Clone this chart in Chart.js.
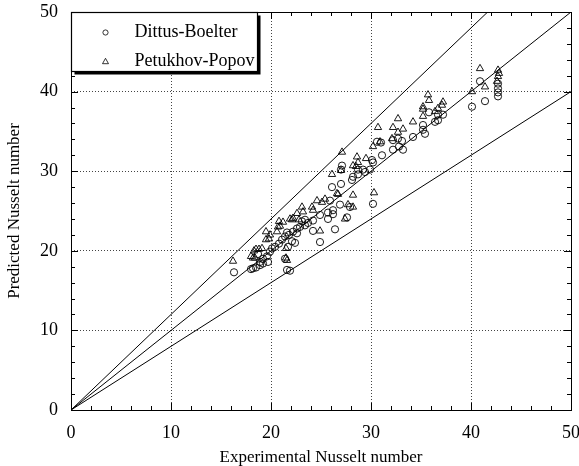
<!DOCTYPE html>
<html><head><meta charset="utf-8">
<script src="https://cdn.jsdelivr.net/npm/chart.js@4/dist/chart.umd.min.js"></script>
<style>html,body{margin:0;padding:0;background:#fff}#wrap{width:579px;height:466px}</style>
</head><body><div id="wrap"><canvas id="c" width="579" height="466"></canvas></div>
<script>
const xTicks = [0, 10, 20, 30, 40, 50];
const yTicks = [0, 10, 20, 30, 40, 50];
const minorStep = 2;
const seriesNames = ['Dittus-Boelter', 'Petukhov-Popov'];
const xTitle = 'Experimental Nusselt number';
const yTitle = 'Predicted Nusselt number';

const dittusX = [16.3,18.0,18.2,18.5,18.9,19.2,19.2,19.6,18.7,19.7,18.9,19.9,20.1,20.4,20.8,21.1,21.4,21.8,22.2,22.6,22.9,23.1,23.4,22.1,21.7,22.4,21.6,22.6,21.4,21.6,21.9,23.4,23.7,24.2,24.9,24.2,24.9,26.4,25.7,26.2,27.6,25.7,26.2,25.9,26.9,27.9,26.1,27.0,28.1,28.2,27.0,27.1,28.7,28.7,29.4,29.2,29.9,30.2,30.1,31.1,30.2,30.6,31.0,32.2,32.7,33.1,32.8,32.2,33.2,34.2,35.2,35.2,35.4,36.4,36.7,36.7,37.2,35.8,40.1,40.9,41.4,42.7,42.7,42.7,42.7];
const dittusY = [17.3,17.7,17.8,17.9,18.2,18.4,19.0,19.3,19.6,18.6,18.6,19.9,20.3,20.5,20.9,21.4,21.8,22.0,22.4,22.8,23.0,23.7,23.9,21.2,20.5,21.0,22.3,22.2,19.0,17.6,17.5,23.2,23.5,23.8,24.5,22.5,21.1,22.7,24.8,24.6,24.2,24.0,25.1,26.3,25.8,25.5,28.0,28.4,28.9,29.3,30.2,30.7,30.2,29.6,29.9,30.2,30.2,31.1,31.4,32.0,25.9,33.7,33.6,33.9,34.1,33.8,33.1,32.7,32.7,34.3,35.8,35.2,34.7,36.2,36.4,37.1,37.1,37.4,38.1,41.3,38.8,41.0,40.4,39.9,39.4];

const petukhovX = [16.2,18.0,18.2,18.4,18.3,18.5,18.8,19.1,19.5,19.8,19.5,19.9,20.6,20.7,20.8,21.2,20.9,21.9,22.1,22.2,21.5,21.5,21.6,22.6,22.8,23.1,23.2,24.1,24.2,24.6,25.1,25.4,24.9,27.4,26.7,26.6,28.2,27.7,28.2,26.1,27.0,27.1,28.2,28.5,28.7,28.6,29.5,30.3,30.2,30.9,30.7,32.2,33.2,32.7,32.1,32.7,34.2,35.2,35.2,35.2,35.7,35.8,36.4,36.7,37.2,37.1,40.1,40.9,41.4,42.7,42.8,42.7,42.6];
const petukhovY = [18.7,19.3,19.1,19.1,20.0,20.2,20.2,20.3,21.4,21.5,22.4,22.0,22.4,23.0,23.7,23.6,23.1,24.0,23.9,24.1,20.3,19.1,18.8,24.7,23.9,25.5,24.9,25.5,25.1,26.3,26.1,26.5,22.5,24.0,27.1,27.2,27.0,25.8,25.5,29.6,30.1,32.4,30.7,30.6,31.1,31.8,31.6,27.3,33.1,33.7,35.5,35.5,35.3,34.9,34.1,36.6,36.2,36.9,37.8,38.1,39.6,38.9,37.5,37.9,38.7,38.3,40.0,42.9,40.6,42.7,42.3,41.9,41.3];

const refSlopes = [1.2, 1.0, 0.8];
const refX = [0, 50];

const FONT = 'Liberation Serif, Times New Roman, serif';

function pts(xs, ys) { return xs.map((x, i) => ({x: x, y: ys[i]})); }

const datasets = [
  {label: seriesNames[0], data: pts(dittusX, dittusY), pointStyle: 'circle', pointRadius: 3.6,
   borderColor: '#000', backgroundColor: 'rgba(0,0,0,0)', borderWidth: 0.9, showLine: false, pointHoverRadius: 3.6},
  {label: seriesNames[1], data: pts(petukhovX, petukhovY), pointStyle: 'triangle', pointRadius: 4.2,
   borderColor: '#000', backgroundColor: 'rgba(0,0,0,0)', borderWidth: 0.9, showLine: false, pointHoverRadius: 4.2}
];
refSlopes.forEach(s => {
  datasets.push({label: 'ref' + s, data: refX.map(x => ({x: x, y: s * x})), showLine: true,
    borderColor: '#000', borderWidth: 1, pointRadius: 0, fill: false, clip: 0});
});

const framePlugin = {
  id: 'frame',
  afterDraw(chart) {
    const ctx = chart.ctx, a = chart.chartArea;
    const xs = chart.scales.x, ys = chart.scales.y;
    ctx.save();
    ctx.strokeStyle = '#000';
    ctx.lineWidth = 1;
    ctx.beginPath();
    for (let v = 0; v <= 50; v += minorStep) {
      const major = v % 10 === 0;
      const L = major ? 7 : 4;
      const px = Math.round(xs.getPixelForValue(v)) + 0.5;
      ctx.moveTo(px, a.bottom); ctx.lineTo(px, a.bottom - L);
      ctx.moveTo(px, a.top); ctx.lineTo(px, a.top + L);
      const py = Math.round(ys.getPixelForValue(v)) + 0.5;
      ctx.moveTo(a.left, py); ctx.lineTo(a.left + L, py);
      ctx.moveTo(a.right, py); ctx.lineTo(a.right - L, py);
    }
    ctx.stroke();
    ctx.strokeRect(Math.round(a.left) + 0.5, Math.round(a.top) + 0.5, Math.round(a.right - a.left), Math.round(a.bottom - a.top));
    const bx = Math.round(a.left) + 0.5, by = Math.round(a.top) + 0.5, bw = 186, bh = 59;
    ctx.fillStyle = '#000';
    ctx.fillRect(bx + 3, by + 3, bw, bh);
    ctx.fillStyle = '#fff';
    ctx.fillRect(bx, by, bw, bh);
    ctx.lineWidth = 1.2;
    ctx.strokeRect(bx, by, bw, bh);
    ctx.lineWidth = 0.8;
    const mx = bx + 34;
    const rows = [by + 20, by + 49];
    ctx.beginPath(); ctx.arc(mx, rows[0], 2.6, 0, Math.PI * 2); ctx.stroke();
    ctx.beginPath();
    ctx.moveTo(mx, rows[1] - 3.2); ctx.lineTo(mx + 3, rows[1] + 2.2); ctx.lineTo(mx - 3, rows[1] + 2.2); ctx.closePath(); ctx.stroke();
    ctx.fillStyle = '#000';
    ctx.font = '18px ' + FONT;
    ctx.textBaseline = 'middle';
    ctx.textAlign = 'left';
    ctx.fillText(chart.data.datasets[0].label, bx + 63, rows[0]);
    ctx.fillText(chart.data.datasets[1].label, bx + 63, rows[1]);
    ctx.restore();
  }
};

new Chart(document.getElementById('c'), {
  type: 'scatter',
  data: {datasets: datasets},
  options: {
    responsive: false,
    animation: false,
    events: [],
    layout: {padding: {top: 12, right: 8, left: 0, bottom: 0}},
    plugins: {legend: {display: false}, tooltip: {enabled: false}},
    scales: {
      x: {
        type: 'linear', min: 0, max: 50,
        afterFit(s) { s.height = 56; s.paddingLeft = 0; s.paddingRight = 0; },
        afterBuildTicks(s) { s.ticks = xTicks.map(v => ({value: v})); },
        ticks: {color: '#000', font: {family: FONT, size: 18}, padding: 12, maxRotation: 0},
        grid: {drawTicks: false, color: c => (c.tick && (c.tick.value === 0 || c.tick.value === 50)) ? 'rgba(0,0,0,0)' : '#444', lineWidth: 1},
        border: {display: false, dash: [1, 2]},
        title: {display: true, text: xTitle, color: '#000', font: {family: FONT, size: 17}, padding: {top: 0, bottom: -2}}
      },
      y: {
        type: 'linear', min: 0, max: 50,
        afterFit(s) { s.width = 71; s.paddingTop = 0; s.paddingBottom = 0; },
        afterBuildTicks(s) { s.ticks = yTicks.map(v => ({value: v})); },
        ticks: {color: '#000', font: {family: FONT, size: 18}, padding: 13},
        grid: {drawTicks: false, color: c => (c.tick && (c.tick.value === 0 || c.tick.value === 50)) ? 'rgba(0,0,0,0)' : '#444', lineWidth: 1},
        border: {display: false, dash: [1, 2]},
        title: {display: true, text: yTitle, color: '#000', font: {family: FONT, size: 17}, padding: {top: 4, bottom: 0}}
      }
    }
  },
  plugins: [framePlugin]
});
</script></body></html>
